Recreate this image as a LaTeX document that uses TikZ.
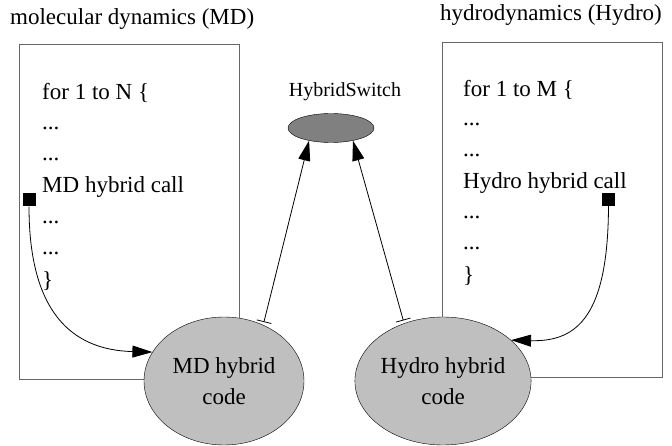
\documentclass[tikz,border=0pt]{standalone}
\usepackage{fontspec}
\setmainfont{Liberation Serif}
\usetikzlibrary{shapes.geometric,arrows.meta}

\begin{document}
\begin{tikzpicture}[x=1pt,y=-1pt,
	box/.style={draw=black!60,line width=1pt},
	code/.style={anchor=base west,inner sep=0pt,font=\fontsize{23}{27}\selectfont},
	hybrid/.style={ellipse,draw,fill=black!25,minimum width=160pt,minimum height=128pt,inner sep=0pt,align=center,font=\fontsize{23}{31}\selectfont},
	call/.style={rectangle,fill=black,minimum size=13pt,inner sep=0pt},
	link/.style={line width=0.8pt,-{Triangle[length=20pt,width=12pt]}},
	swlink/.style={line width=0.8pt,shorten <=3pt,{Bar[width=15pt]}-{Triangle[length=20pt,width=12pt]}}]
	\useasboundingbox (0,0) rectangle (672,446);
	
	%BOXES
	\draw[box] (19,45) rectangle (239,379);
	\draw[box] (442,43) rectangle (662,377);
	\node[code] (mdtitle) at (10,25) {molecular dynamics (MD)};
	\node[code] (hytitle) at (440,21) {hydrodynamics (Hydro)};
	
	%MD LOOP
	\node[code] (mdfor) at (42,100) {for 1 to N \{};
	\node[code] (mddotsa) at (42,130) {...};
	\node[code] (mddotsb) at (42,161) {...};
	\node[code] (mdline) at (42,193) {MD hybrid call};
	\node[code] (mddotsc) at (42,224) {...};
	\node[code] (mddotsd) at (42,255) {...};
	\node[code] (mdend) at (42,288) {\}};
	
	%HYDRO LOOP
	\node[code] (hyfor) at (463,97) {for 1 to M \{};
	\node[code] (hydotsa) at (463,126) {...};
	\node[code] (hydotsb) at (463,157) {...};
	\node[code] (hyline) at (463,189) {Hydro hybrid call};
	\node[code] (hydotsc) at (463,219) {...};
	\node[code] (hydotsd) at (463,250) {...};
	\node[code] (hyend) at (463,283) {\}};
	
	%SWITCH
	\node[font=\fontsize{20}{23}\selectfont] (hslabel) at (345,92) {HybridSwitch};
	\node[ellipse,draw,fill=black!50,minimum width=86pt,minimum height=29pt,inner sep=0pt] (hs) at (331,128) {};
	
	%HYBRID CODES
	\node[hybrid] (mdcode) at (224,381) {MD hybrid\\code};
	\node[hybrid] (hycode) at (443,381) {Hydro hybrid\\code};
	\node[call] (mdcall) at (29,200) {};
	\node[call] (hycall) at (608.5,199.5) {};
	
	%CONNECTORS
	\draw[link] (mdcall.south) .. controls (29,310) and (70,350) .. (mdcode.158);
	\draw[link] (hycall.south) .. controls (608,315) and (578,342) .. (hycode.31);
	\draw[swlink] (mdcode.55) -- (hs.210);
	\draw[swlink] (hycode.124) -- (hs.330);
\end{tikzpicture}
\end{document}
